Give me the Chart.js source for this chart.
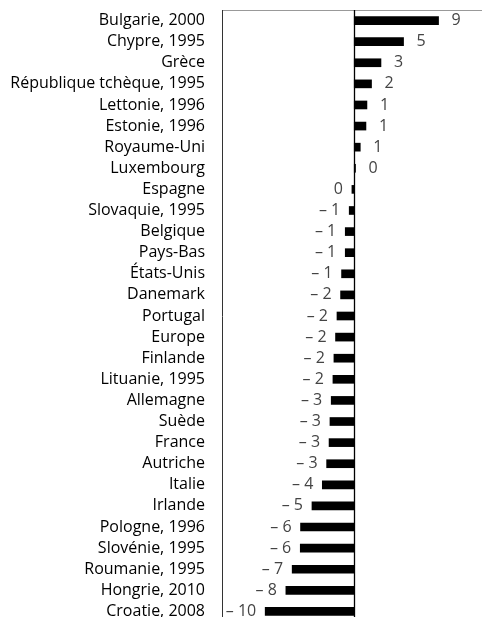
<!DOCTYPE html>
<html>
<head>
<meta charset="utf-8">
<script src="https://cdn.jsdelivr.net/npm/chart.js@4.4.1/dist/chart.umd.min.js"></script>
<style>
  html, body { margin: 0; padding: 0; background: #fff; overflow: hidden; }
  #wrap { position: relative; width: 482px; height: 622px; }
</style>
</head>
<body>
<div id="wrap"><canvas id="chart"></canvas></div>
<script>
// Categories, top to bottom
const countries = [
  'Bulgarie, 2000', 'Chypre, 1995', 'Grèce', 'République tchèque, 1995',
  'Lettonie, 1996', 'Estonie, 1996', 'Royaume-Uni', 'Luxembourg', 'Espagne',
  'Slovaquie, 1995', 'Belgique', 'Pays-Bas', 'États-Unis', 'Danemark',
  'Portugal', 'Europe', 'Finlande', 'Lituanie, 1995', 'Allemagne', 'Suède',
  'France', 'Autriche', 'Italie', 'Irlande', 'Pologne, 1996', 'Slovénie, 1995',
  'Roumanie, 1995', 'Hongrie, 2010', 'Croatie, 2008'
];

// Values
const values = [
  9.37, 5.48, 2.97, 1.92,
  1.41, 1.3, 0.67, 0.14, -0.26,
  -0.56, -1.0, -1.0, -1.41, -1.52,
  -1.92, -2.08, -2.26, -2.37, -2.56, -2.7,
  -2.8, -3.07, -3.55, -4.7, -5.97, -6.0,
  -6.9, -7.6, -9.9
];

// Rounded value text, French style minus with a space
const formatValue = (v) => {
  const r = Math.round(v);
  if (r === 0) return '0';
  return r < 0 ? '\u2013 ' + Math.abs(r) : String(r);
};

const FONT = '"Open Sans", sans-serif';

// Zero line + value labels
const barExtras = {
  id: 'barExtras',
  afterDatasetsDraw(chart) {
    const { ctx, chartArea } = chart;
    const xScale = chart.scales.x;
    const x0 = Math.round(xScale.getPixelForValue(0)) + 0.5;
    ctx.save();
    ctx.strokeStyle = '#000';
    ctx.lineWidth = 1.3;
    ctx.beginPath();
    ctx.moveTo(x0, chartArea.top);
    ctx.lineTo(x0, chartArea.bottom);
    ctx.stroke();

    ctx.font = '16px ' + FONT;
    ctx.fillStyle = '#444';
    ctx.textBaseline = 'middle';
    const meta = chart.getDatasetMeta(0);
    meta.data.forEach((bar, i) => {
      const v = values[i];
      const txt = formatValue(v);
      if (v >= 0) {
        ctx.textAlign = 'left';
        ctx.fillText(txt, bar.x + 13, bar.y);
      } else {
        ctx.textAlign = 'right';
        ctx.fillText(txt, bar.x - 9, bar.y);
      }
    });
    ctx.restore();
  }
};

new Chart(document.getElementById('chart'), {
  type: 'bar',
  data: {
    labels: countries,
    datasets: [{
      data: values,
      backgroundColor: '#000',
      borderWidth: 0,
      barThickness: 8
    }]
  },
  options: {
    indexAxis: 'y',
    responsive: true,
    maintainAspectRatio: false,
    animation: false,
    layout: { padding: { top: 10, right: 0, bottom: 0, left: 0 } },
    plugins: {
      legend: { display: false },
      tooltip: { enabled: false }
    },
    scales: {
      x: {
        position: 'top',
        min: -14.7,
        max: 14.2,
        ticks: { display: false },
        grid: { display: false, drawTicks: false },
        border: { display: true, color: '#999', width: 1 },
        afterFit: (scale) => {
          scale.height = 0;
          scale.paddingLeft = 0;
          scale.paddingRight = 0;
        }
      },
      y: {
        position: 'left',
        ticks: {
          color: '#000',
          font: { family: FONT, size: 16 },
          padding: 17,
          autoSkip: false
        },
        grid: { display: false, drawTicks: false },
        border: { display: true, color: '#333', width: 1 },
        afterFit: (scale) => {
          scale.width = 222;
          scale.paddingTop = 0;
          scale.paddingBottom = 0;
        }
      }
    }
  },
  plugins: [barExtras]
});
</script>
</body>
</html>
